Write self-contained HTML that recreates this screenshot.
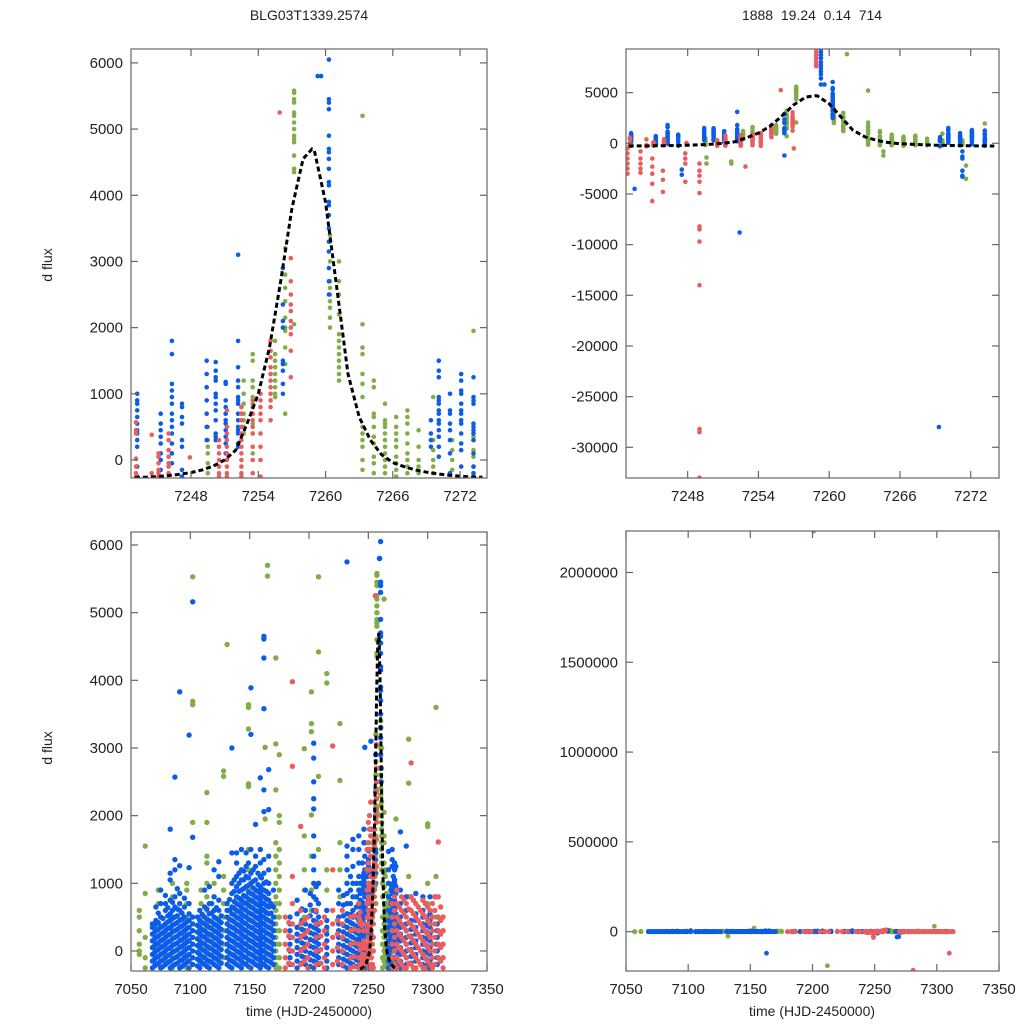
<!DOCTYPE html>
<html><head><meta charset="utf-8"><title>BLG03T1339.2574 light curve</title>
<style>
html,body{margin:0;padding:0;background:#fff;width:1024px;height:1024px;overflow:hidden;}
svg{display:block;font-family:"Liberation Sans",Arial,sans-serif;}
</style></head>
<body>
<svg id="chart" width="1024" height="1024" viewBox="0 0 1024 1024" xmlns="http://www.w3.org/2000/svg">
<rect x="0" y="0" width="1024" height="1024" fill="#fff"/>
<text x="309" y="20" text-anchor="middle" font-size="14" fill="#222">BLG03T1339.2574</text>
<text x="812" y="20" text-anchor="middle" font-size="14" fill="#222" style="white-space:pre" xml:space="preserve">1888  19.24  0.14  714</text>
<text transform="translate(52,265) rotate(-90)" text-anchor="middle" font-size="14" fill="#222">d flux</text>
<text transform="translate(52,748) rotate(-90)" text-anchor="middle" font-size="14" fill="#222">d flux</text>
<text x="309" y="1016" text-anchor="middle" font-size="14" fill="#222">time (HJD-2450000)</text>
<text x="812" y="1016" text-anchor="middle" font-size="14" fill="#222">time (HJD-2450000)</text>
</svg>
<script>
// ---------- data: event window columns [time, [flux values]] ----------
const eventBlue = [
 [7243.2,[1000,900,850,750,650,550,450,400,300,200,-100,-250]],
 [7243.5,[-4500]],
 [7245.3,[700,550,450,350,250,100,0,-150]],
 [7246.3,[1800,1600,1150,1050,950,850,700,600,500,400,250,100,-50]],
 [7247.2,[850,800,650,550,300,200,-150,-250]],
 [7247.5,[-3100,-2600]],
 [7249.4,[1500,1300,1100,900,700,500,300]],
 [7250.2,[1480,1350,1250,1200,1000,950,850,750,600,400,300,350]],
 [7251.1,[1180,1150,900,800,700,600,550,450,350,250,100]],
 [7252.2,[3100,1800,1400,1200,1100,950,900,850,700,600,500,450,400,250,200]],
 [7252.4,[-8800]],
 [7256.2,[2900,2350,2100,2000,1500,1450,1350,1150,1000,-1200]],
 [7259.3,[9300,9000,8700,8400,8000,7700,7400,7100,6800,6400,5800]],
 [7259.6,[5800]],
 [7260.3,[6050,5450,5400,5300,4900,4700,4650,4550,4400,4200,4150,3900,3850,3700,3500,3300,3150,2900,2700,2500]],
 [7269.3,[-28000]],
 [7269.4,[600,400,300,200,-300]],
 [7270.1,[1500,1350,1250,950,900,850,750,700,600,550,450,350,200,50]],
 [7271.1,[1000,750,700,550,450,300,100,-200]],
 [7271.3,[-3300,-3200,-2700,-1500,-1300,-800]],
 [7272.1,[1300,1200,1050,1000,850,750,700,600,550,400,250,150,-100]],
 [7273.2,[1250,950,900,850,550,500,450,400,300,100,-100,-200]]
];
const eventRed = [
 [7242.9,[-3000,-2500,-2000,-1500,-1000,-500]],
 [7243.1,[570,450,400,20,-100,-200,-250]],
 [7244.0,[-2900,-2500,-2000,-1500,-800]],
 [7244.5,[380,-300,-200]],
 [7245.0,[-5700,-4000,-3000,-2300,-1500]],
 [7245.1,[100,50,-50,-150,-200,-250]],
 [7245.9,[-4800,-3600,-2700]],
 [7246.0,[400,300,150,50,-50,-100,-200]],
 [7247.8,[-3800,-2000,-1500,-1000]],
 [7247.9,[40]],
 [7249.0,[-33000,-28500,-28200,-14000,-9700,-8500,-8200,-4900,-3800,-3200,-2700,-2000]],
 [7250.5,[300,200,100,0,-100,-200,-250]],
 [7251.2,[750,500,400,300,200,100,0,-100,-200,-250]],
 [7252.5,[800,700,600,500,400,300,200,100,0,-100,-200,-250]],
 [7252.9,[-2300]],
 [7253.5,[900,800,700,600,500,400,200,0,-200]],
 [7254.2,[1000,900,800,700,600,400,200,0,-250]],
 [7255.1,[1800,1650,1550,1400,1300,1200,1100,1000,900,800,600]],
 [7255.9,[5250]],
 [7256.9,[3050,2700,2500,2350,2250,2100,2000,1900,1650,1250]],
 [7257.0,[-500]],
 [7258.9,[9300,9000,8700,8400,8100,7800,7600]]
];
const eventGreen = [
 [7249.5,[500,300,200,100,-50,-200]],
 [7249.6,[-1400,-2000]],
 [7251.7,[-1800,-2000]],
 [7252.7,[1200,1000,850,700,600,500,400]],
 [7253.5,[1600,1500,1200,1100,950,850,700,550,400,100]],
 [7255.5,[1800,1600,1500,1400,1300,1200,1100,1000,950]],
 [7256.4,[3200,2800,2600,2400,2150,2000,1950,1700,1450,700]],
 [7257.2,[5580,5550,5450,5400,5250,5200,5100,5000,4900,4850,4800,4600,4400,4350,2050]],
 [7260.4,[3400,3300,3000,2700,2600,2500,2400,2300,2150,2000]],
 [7261.2,[3000,2700,2500,2200,1900,1800,1700,1600,1500,1400,1300,1200]],
 [7261.5,[8800]],
 [7263.3,[5200,2050,1700,1600,1300,1150,950,500,400,300,200,0,-150]],
 [7264.3,[1200,1100,700,650,500,350,250,50,-50,-200]],
 [7264.6,[-1200,-800]],
 [7265.3,[850,600,550,500,400,300,200,100,0,-100,-200]],
 [7266.3,[650,500,400,300,200,50,-50,-150,-250]],
 [7267.3,[750,650,550,400,250,100,0,-100,-200]],
 [7268.3,[450,200,0,-100,-200]],
 [7269.6,[950,300,150,0,-100,-200]],
 [7271.3,[300,150,0,-150]],
 [7271.6,[-3500,-2200]],
 [7273.2,[1950,350,300,150,50,-100,-200,-250]]
];
// ---------- data: full season columns ----------
const broadBlue = [
 [7068,[-250,-150,-50,50,150,250,350,400]],
 [7071,[-200,-100,0,100,200,300,400,450,650]],
 [7075,[-250,-150,-50,50,150,250,350,500,700,900]],
 [7079,[-200,-100,0,100,200,300,400,600,700,820]],
 [7083,[-250,-150,-50,50,150,250,350,450,550,750,1050,1150,1800]],
 [7087,[-200,-100,0,100,200,300,400,500,650,800,1200,1350,2570]],
 [7091,[-250,-150,-50,50,150,250,350,450,600,700,850,1260,3830]],
 [7095,[-200,-100,0,100,200,300,400,500,650,780]],
 [7099,[-250,-150,-50,50,150,250,350,450,550,700,1230,3190]],
 [7102,[-200,-100,0,100,200,300,400,500,1680,5160]],
 [7108,[-250,-150,-50,50,150,250,350,450,600]],
 [7112,[-200,-100,0,100,200,300,400,500,650,900]],
 [7116,[-250,-150,-50,50,150,250,350,450,550,700,950]],
 [7120,[-200,-100,0,100,200,300,400,500,600,800,1200]],
 [7124,[-250,-150,-50,50,150,250,350,450,600,750,1100,1320]],
 [7131,[-200,-100,0,100,200,300,400,500,600,700]],
 [7135,[-250,-150,-50,50,150,250,350,450,550,650,850,1000,1450,3000]],
 [7139,[-200,-100,0,100,200,300,400,500,600,700,800,950,1100,1300,1450]],
 [7143,[-250,-150,-50,50,150,250,350,450,550,650,750,900,1050,1200,1500]],
 [7147,[-200,-100,0,100,200,300,400,500,600,700,800,950,1100,1250,1450]],
 [7151,[-250,-150,-50,50,150,250,350,450,550,650,750,850,1000,1150,1500,3890,3200]],
 [7155,[-200,-100,0,100,200,300,400,500,600,700,800,900,1050,1250,1400,1870]],
 [7159,[-250,-150,-50,50,150,250,350,450,550,650,750,850,950,1100,1300,1500,2560]],
 [7162,[-200,-100,0,100,200,300,400,500,600,700,800,900,1000,1150,1350,2060,4650,4610,4330,3580,2380]],
 [7166,[-250,-150,-50,50,150,250,350,450,550,650,750,850,1000,1200,1400,2680,2090]],
 [7170,[-200,-100,0,100,200,300,400,500,650,900]],
 [7184,[-200,-100,0,100,200,300,400,500]],
 [7190,[-250,-150,-50,50,150,250,350,550,750]],
 [7197,[-200,-100,0,100,200,300,400,600,900]],
 [7204,[-250,-150,-50,50,150,250,350,450,600,800,1000,1200,1400,1700,2100,2250,2500,2850,3070]],
 [7208,[-200,-100,0,100,200,300,400,500,700,1000]],
 [7215,[-250,-150,-50,50,150,250,350,450,600]],
 [7225,[-200,-100,0,100,200,300,400,500,700,900]],
 [7232,[-250,-150,-50,50,150,250,350,450,550,700,850,1000,1200,1400,1550,5750]],
 [7237,[-200,-100,0,100,200,300,400,500,600,800,1000,1250,1500,1650]],
 [7242,[-250,-150,-50,50,150,250,350,450,550,700,900,1100,1300,1500,1700]],
 [7247,[-200,-100,0,100,200,300,400,500,600,800,1000,1200,1400,1600,3010]],
 [7267,[-250,-150,-50,50,150,250,350,450,600,800,1000,1200,1470]],
 [7271,[-200,-100,0,100,200,300,400,500,650,850,1100]],
 [7277,[-250,-150,-50,50,150,250,350,500,700,900,1760]],
 [7282,[-200,-100,0,100,200,300,400,600,800,1550]],
 [7290,[-250,-150,-50,50,150,250,350,450,550,850]],
 [7296,[-200,-100,0,100,200,300,400,500,600,800]],
 [7302,[-250,-150,-50,50,150,250,350,450,550,800]],
 [7308,[-200,-100,0,100,200,300,400]]
];
const extraBlue = [
 [7070,[-220,-120,-20,80,180,280,380]],
 [7073,[-180,-80,20,120,220,320,420,560]],
 [7077,[-230,-130,-30,70,170,270,370,480]],
 [7081,[-170,-70,30,130,230,330,430,520,640]],
 [7085,[-220,-120,-20,80,180,280,380,480,600,720]],
 [7089,[-180,-80,20,120,220,320,420,520,620,920]],
 [7093,[-230,-130,-30,70,170,270,370,470,560]],
 [7097,[-170,-70,30,130,230,330,430]],
 [7106,[-220,-120,-20,80,180,280,380,500]],
 [7110,[-180,-80,20,120,220,320,420,540]],
 [7114,[-230,-130,-30,70,170,270,370,470,620]],
 [7118,[-170,-70,30,130,230,330,430,560,700]],
 [7122,[-220,-120,-20,80,180,280,380,480,640]],
 [7126,[-180,-80,20,120,220,320,420,520]],
 [7133,[-230,-130,-30,70,170,270,370,470,600,760]],
 [7137,[-170,-70,30,130,230,330,430,530,630,730,880,1050]],
 [7141,[-220,-120,-20,80,180,280,380,480,580,680,780,880,1000,1150]],
 [7145,[-180,-80,20,120,220,320,420,520,620,720,820,920,1050,1180]],
 [7149,[-230,-130,-30,70,170,270,370,470,570,670,770,870,970,1080,1300]],
 [7153,[-170,-70,30,130,230,330,430,530,630,730,830,930,1030,1200]],
 [7157,[-220,-120,-20,80,180,280,380,480,580,680,780,880,980,1150]],
 [7160,[-180,-80,20,120,220,320,420,520,620,720,820,920,1080]],
 [7164,[-230,-130,-30,70,170,270,370,470,570,670,770,880,1020]],
 [7168,[-170,-70,30,130,230,330,430,560,700]],
 [7194,[-180,-80,20,120,220,320,450,620]],
 [7201,[-230,-130,-30,70,170,270,370,520,680,850]],
 [7206,[-170,-70,30,130,230,330,430,580,760,950]],
 [7229,[-220,-120,-20,80,180,280,380,520,680,820]],
 [7235,[-180,-80,20,120,220,320,420,540,700,900,1100]],
 [7240,[-230,-130,-30,70,170,270,370,500,650,800,1000]],
 [7245,[-170,-70,30,130,230,330,430,560,720,900,1100,1300]],
 [7269,[-180,-80,20,120,220,320,420,550,700,900]],
 [7274,[-220,-120,-20,80,180,280,380,500,650]],
 [7286,[-180,-80,20,120,220,320,450]],
 [7299,[-220,-120,-20,80,180,280,380,500]]
];
const broadGreen = [
 [7057,[600,500,300,100,0,-50]],
 [7062,[1550,850,200,-100,-250]],
 [7073,[900,700,400,100,-200]],
 [7085,[1000,800,500,300,0,-250]],
 [7097,[1000,900,700,500,200,-100,-250]],
 [7102,[5530,3690,3640,1900]],
 [7109,[900,700,500,300,100,-150]],
 [7114,[2340,1900,1400,1300,1000,800,600,400,200,0,-200]],
 [7120,[1000,800,600,400,200,-100]],
 [7128,[2660,2580,1100,900,700,500,300,100,-100]],
 [7131,[4530]],
 [7149,[3640,3600,3280,2470,2430,1500,1200,900,700]],
 [7163,[3010,1950]],
 [7165,[5700,5540]],
 [7172,[4330,3060,2380,1600,1400,1200,1000,800,700,600,500,400,300,200,100,0,-100,-200,-250]],
 [7175,[2900,2000,1900,1500,1300,1100,900,700,500,300,100,-100,-250]],
 [7196,[2990,1700,1200,900,500]],
 [7202,[3830,3360,3240,2010,1400,900,600]],
 [7208,[2580,5530,4420,1500,1000,700,400]],
 [7215,[4100,3960,1200,900,600,300]],
 [7226,[3360,2520,1600,1200,800]],
 [7262,[1000,800,500,300,100,-100,-250]],
 [7266,[400,200,0,-200]],
 [7284,[3130,2480,1100,800]],
 [7300,[1880,1840,1000,700,400,200]],
 [7307,[3600,1100,800,500,100]]
];
const broadRed = [
 [7180,[500,300,100,-100,-250]],
 [7186,[3980,2730,1100,700,400,200,0,-200]],
 [7193,[1840,600,400,200,0,-200]],
 [7199,[500,300,100,-100,-250]],
 [7206,[600,400,200,0,-200]],
 [7213,[500,300,100,-100,-250]],
 [7220,[1200,3030,600,400,200,0,-200]],
 [7228,[600,400,200,0,-200]],
 [7235,[500,300,100,-100,-250]],
 [7242,[700,500,300,100,-100,-250]],
 [7250,[1900,1600,1300,1000,800,600,400,200,0,-200]],
 [7252,[2200,1700,1400,1100,900,700,500,300,100,-100,-250]],
 [7270,[700,500,300,100,-100,-250]],
 [7274,[900,700,500,300,100,-100,-250]],
 [7278,[800,600,400,200,0,-200]],
 [7282,[700,500,300,100,-100,-250]],
 [7286,[2780,800,600,400,200,0,-200]],
 [7290,[700,500,300,100,-100,-250]],
 [7294,[600,400,200,0,-200]],
 [7298,[700,500,300,100,-100,-250]],
 [7302,[600,400,200,0,-200]],
 [7306,[800,600,400,200,0,-200]],
 [7309,[1610,800,500,300,100,-100]],
 [7313,[500,300,100,-100,-250]]
];
const extraRed = [
 [7183,[420,220,20,-180]],
 [7196,[450,250,50,-150]],
 [7210,[420,220,20,-180]],
 [7224,[450,250,50,-150]],
 [7238,[520,320,120,-80,-230]],
 [7249,[1500,1200,900,700,500,300,100,-100]],
 [7251,[2000,1800,1500,1200,950,750,550,350,150,-50]],
 [7272,[800,600,400,200,0,-200]],
 [7276,[650,450,250,50,-150]],
 [7280,[750,550,350,150,-50,-250]],
 [7284,[620,420,220,20,-180]],
 [7288,[750,550,350,150,-50,-250]],
 [7292,[650,450,250,50,-150]],
 [7296,[750,550,350,150,-50,-250]],
 [7300,[650,450,250,50,-150]],
 [7304,[700,500,300,100,-100,-250]],
 [7311,[650,450,250,50,-150]]
];
// big outliers only visible on the full-range panel
const outlierGreen = [[7201,[2230000]],[7212,[-190000]],[7132,[-25000]],[7153,[20000]],[7298,[30000]]];
const outlierBlue = [[7163,[-120000]],[7268,[-30000]]];
const outlierRed = [[7281,[-215000]],[7310,[-120000]]];
// microlensing model (dashed fit)
const modelT = [7243,7244,7245,7246,7247,7248,7249,7250,7251,7252,7253,7254,7255,7256,7257,7258,7258.8,7259,7260,7261,7262,7263,7264,7265,7266,7267,7268,7269,7270,7271,7272,7273,7274];
const modelF = [-265,-260,-250,-235,-215,-190,-150,-90,0,150,550,1000,1700,2700,3800,4550,4700,4680,3900,2600,1300,650,300,80,-40,-100,-150,-185,-210,-230,-245,-255,-262];
// ticks
const tlYTicks = [0,1000,2000,3000,4000,5000,6000];
const trYTicks = [-30000,-25000,-20000,-15000,-10000,-5000,0,5000];
const zoomXTicks = [7248,7254,7260,7266,7272];
const blYTicks = [0,1000,2000,3000,4000,5000,6000];
const brYTicks = [0,500000,1000000,1500000,2000000];
const fullXTicks = [7050,7100,7150,7200,7250,7300,7350];

const NS = "http://www.w3.org/2000/svg";
const svg = document.getElementById('chart');
const COL = {red:'#e95d5f', green:'#80ad47', blue:'#0b5ce9'};

function mk(tag, attrs, parent){
  const e = document.createElementNS(NS, tag);
  for (const k in attrs) e.setAttribute(k, attrs[k]);
  (parent||svg).appendChild(e);
  return e;
}

function panel(p){
  const g = mk('g', {});
  
  
  const sx = t => p.x0 + (t - p.xmin) / (p.xmax - p.xmin) * (p.x1 - p.x0);
  const sy = v => p.y1 - (v - p.ymin) / (p.ymax - p.ymin) * (p.y1 - p.y0);
  const cid = 'clip-' + p.name;
  const cp = mk('clipPath', {id: cid}, g);
  mk('rect', {x:p.x0, y:p.y0, width:p.x1-p.x0, height:p.y1-p.y0}, cp);
  const dots = mk('g', {'clip-path':'url(#' + cid + ')'}, g);
  
  
  p.series.forEach(s => {
    const sg = mk('g', {fill: COL[s.color]}, dots);
    
    
    s.data.forEach(col => {
      if (col[0] < p.xmin || col[0] > p.xmax) return;
      col[1].forEach(v => {
        const cy = sy(v);
        if (cy < p.y0 - 2 || cy > p.y1 + 2) return;
        const c = mk('circle', {cx: sx(col[0]).toFixed(1), cy: cy.toFixed(1), r: p.r}, sg);
        
        
      });
    });
  });
  if (p.model) {
    let d = '';
    modelT.forEach((t,i) => { d += (i ? 'L' : 'M') + sx(t).toFixed(1) + ',' + sy(modelF[i]).toFixed(1); });
    const ml = mk('path', {d: d, fill:'none', stroke:'#000', 'stroke-width':3, 'stroke-dasharray':'5,3'}, dots);
    
    
  }
  const fr = mk('rect', {x:p.x0, y:p.y0, width:p.x1-p.x0, height:p.y1-p.y0, fill:'none', stroke:'#666', 'stroke-width':1.2}, g);
  
  
  p.yTicks.forEach(v => {
    const y = sy(v);
    mk('line', {x1:p.x0, x2:p.x0+7, y1:y, y2:y, stroke:'#666', 'stroke-width':1.2}, g);
    mk('line', {x1:p.x1-7, x2:p.x1, y1:y, y2:y, stroke:'#666', 'stroke-width':1.2}, g);
    const tx = mk('text', {x:p.x0-8, y:y+5, 'text-anchor':'end', 'font-size':15, fill:'#222'}, g);
    tx.textContent = v;
    
    
  });
  p.xTicks.forEach(v => {
    const x = sx(v);
    mk('line', {x1:x, x2:x, y1:p.y1, y2:p.y1-7, stroke:'#666', 'stroke-width':1.2}, g);
    mk('line', {x1:x, x2:x, y1:p.y0, y2:p.y0+7, stroke:'#666', 'stroke-width':1.2}, g);
    const tx = mk('text', {x:x, y:p.y1+23, 'text-anchor':'middle', 'font-size':15, fill:'#222'}, g);
    tx.textContent = v;
    
    
  });
}

const evt = [{color:'green', data:eventGreen},{color:'blue', data:eventBlue},{color:'red', data:eventRed}];
const full = [{color:'green', data:broadGreen.concat(eventGreen)},{color:'blue', data:broadBlue.concat(extraBlue, eventBlue)},{color:'red', data:broadRed.concat(extraRed, eventRed)}];
const fullOut = [{color:'green', data:broadGreen.concat(eventGreen, outlierGreen)},{color:'blue', data:broadBlue.concat(extraBlue, eventBlue, outlierBlue)},{color:'red', data:broadRed.concat(extraRed, eventRed, outlierRed)}];

panel({name:'zoom-panel', x0:131, x1:487, y0:49, y1:478, xmin:7242.65, xmax:7274.4, ymin:-272, ymax:6210, xTicks:zoomXTicks, yTicks:tlYTicks, series:evt, r:2.3, model:true});
panel({name:'zoom-wide-y-panel', x0:626, x1:999, y0:49, y1:478, xmin:7242.77, xmax:7274.4, ymin:-33030, ymax:9306, xTicks:zoomXTicks, yTicks:trYTicks, series:evt, r:2.3, model:true});
panel({name:'season-panel', x0:131, x1:487, y0:532, y1:971, xmin:7050, xmax:7350, ymin:-296, ymax:6192, xTicks:fullXTicks, yTicks:blYTicks, series:full, r:2.7, model:true});
panel({name:'season-full-y-panel', x0:626, x1:999, y0:531, y1:971, xmin:7050, xmax:7350, ymin:-219000, ymax:2231000, xTicks:fullXTicks, yTicks:brYTicks, series:fullOut, r:2.4, model:false});
</script>
</body></html>
